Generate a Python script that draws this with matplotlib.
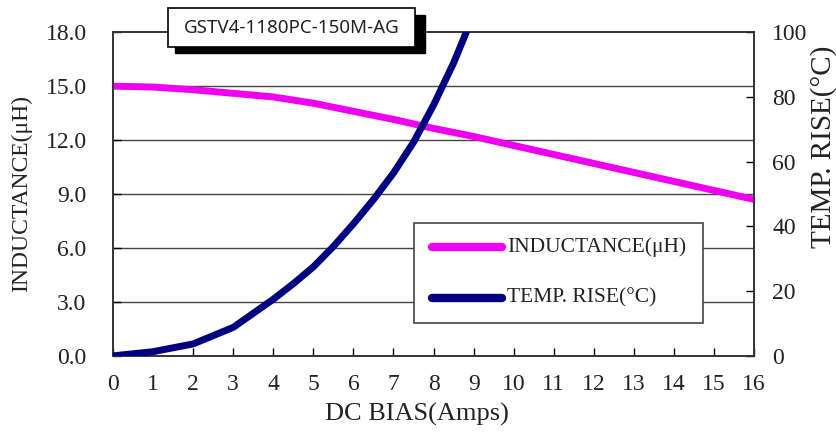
import matplotlib.pyplot as plt
from matplotlib.patches import Rectangle

# Data
bias_amps = [0, 1, 2, 3, 4, 5, 6, 7, 8, 9, 10, 11, 12, 13, 14, 15, 16]
inductance_uh = [15.0, 14.95, 14.8, 14.6, 14.4, 14.05, 13.6, 13.15, 12.65, 12.2, 11.7, 11.2, 10.7, 10.2, 9.7, 9.2, 8.7]

temp_amps = [0, 1, 2, 3, 4, 4.5, 5, 5.5, 6, 6.5, 7, 7.5, 8, 8.5, 8.8, 9.2]
temp_rise = [0, 1.3, 3.7, 8.8, 17.5, 22.3, 27.5, 33.8, 40.8, 48.3, 56.5, 66, 77.5, 90.5, 99.5, 113]

left_ticks = [0, 3, 6, 9, 12, 15, 18]
right_ticks = [0, 20, 40, 60, 80, 100]

serif = "Liberation Serif"
pink = "#f000f0"
navy = "#000080"
txt_col = "#222222"

fig = plt.figure(figsize=(8.37, 4.41), dpi=100)
ax = fig.add_axes([0.135, 0.193, 0.766, 0.734])
ax2 = ax.twinx()

ax.plot(bias_amps, inductance_uh, color=pink, lw=5, solid_capstyle="round",
        solid_joinstyle="round", zorder=3)
ax2.plot(temp_amps, temp_rise, color=navy, lw=5, solid_capstyle="round",
         solid_joinstyle="round", zorder=3)

ax.set_xlim(0, 16)
ax.set_ylim(0, 18)
ax2.set_ylim(0, 100)

ax.set_xticks(range(0, 17))
ax.set_yticks(left_ticks)
ax.set_yticklabels([f"{v:.1f}" for v in left_ticks])
ax2.set_yticks(right_ticks)

for v in left_ticks[1:-1]:
    ax.axhline(v, color="#444444", lw=1.0, zorder=1)

ax.tick_params(axis="x", direction="in", length=6, width=1, labelsize=17, pad=13)
ax.tick_params(axis="y", direction="in", length=6, width=1, labelsize=17, pad=19)
ax2.tick_params(direction="in", length=6, width=1, labelsize=17, pad=13)
for lab in ax.get_xticklabels() + ax.get_yticklabels() + ax2.get_yticklabels():
    lab.set_fontfamily(serif)
    lab.set_color(txt_col)

for a in (ax, ax2):
    for s in a.spines.values():
        s.set_color("#333333")
        s.set_linewidth(1.2)

# Axis titles placed as in the reference
fig.text(417 / 837, 1 - 414 / 441, "DC BIAS(Amps)", ha="center", va="center",
         fontfamily=serif, fontsize=19, color=txt_col)
fig.text(22 / 837, 1 - 194 / 441, "INDUCTANCE(\u03bcH)", ha="center", va="center",
         rotation=90, fontfamily=serif, fontsize=17, color=txt_col)
fig.text(824 / 837, 1 - 147 / 441, "TEMP. RISE(\u00b0C)", ha="center", va="center",
         rotation=90, fontfamily=serif, fontsize=21, color=txt_col)

# Title box with black drop shadow
fig.patches.append(Rectangle((175 / 837, 1 - 53 / 441), 250 / 837, 38 / 441,
                             transform=fig.transFigure, facecolor="black", edgecolor="black", zorder=5))
fig.patches.append(Rectangle((168 / 837, 1 - 47 / 441), 247 / 837, 39 / 441,
                             transform=fig.transFigure, facecolor="white", edgecolor="black", lw=1.2, zorder=6))
fig.text(292 / 837, 1 - 28 / 441, "GSTV4-1180PC-150M-AG", ha="center", va="center",
         fontfamily="Noto Sans", fontsize=13.5, color=txt_col, zorder=7)

# Legend box
lx0, lx1, ly0, ly1 = 414 / 837, 703 / 837, 1 - 323 / 441, 1 - 223 / 441
fig.patches.append(Rectangle((lx0, ly0), lx1 - lx0, ly1 - ly0, transform=fig.transFigure,
                             facecolor="white", edgecolor="#444444", lw=1.2, zorder=8))
for y, col, txt in [(1 - 247 / 441, pink, "INDUCTANCE(\u03bcH)"), (1 - 298 / 441, navy, "TEMP. RISE(\u00b0C)")]:
    fig.add_artist(plt.Line2D([432 / 837, 502 / 837], [y, y], transform=fig.transFigure,
                              color=col, lw=6, solid_capstyle="round", zorder=9))
    fig.text(507 / 837, y, txt, ha="left", va="center", fontfamily=serif,
             fontsize=15.5, color=txt_col, zorder=9)

plt.savefig("out.png", dpi=100)
